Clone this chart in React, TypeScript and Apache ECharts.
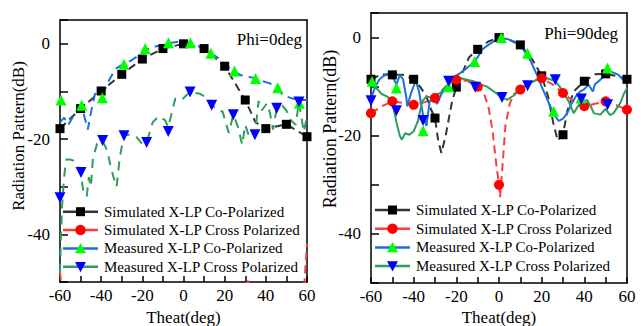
import React, { useEffect, useRef } from "react";
import * as echarts from "echarts";

type P = [number, number];

const FONT = "'Liberation Serif', 'Times New Roman', serif";

const seriesNames = [
  "Simulated X-LP Co-Polarized",
  "Simulated X-LP Cross Polarized",
  "Measured X-LP Co-Polarized",
  "Measured X-LP Cross Polarized",
];
const panelTitles = ["Phi=0deg", "Phi=90deg"];
const xAxisTitle = "Theat(deg)";
const yAxisTitle = "Radiation Pattern(dB)";
const xTickLabels = [-60, -40, -20, 0, 20, 40, 60];
const yTickLabels = [0, -20, -40];

// ---------- Phi = 0 deg ----------
const phi0SimCoMarkers: P[] = [
  [-60, -17.8], [-50, -13.6], [-40, -9.9], [-30, -6.4], [-20, -3.2], [-10, -1.0], [0, 0],
  [10, -1.0], [20, -4.7], [30, -11.8], [40, -17.8], [50, -16.9], [60, -19.5],
];
const phi0SimCoLine: P[] = [
  [-60, -17.8], [-50, -13.6], [-40, -9.9], [-30, -6.4], [-20, -3.2], [-10, -1.0], [0, 0],
  [10, -1.0], [20, -4.7], [30, -11.8], [35, -16.5], [40, -17.8], [50, -16.9], [60, -19.5],
];
const phi0SimCrossMarkers: P[] = [
  [-60, -56], [-50, -58], [-40, -60], [-30, -62], [-20, -64], [-10, -66], [0, -70],
  [10, -66], [20, -62], [30, -52], [40, -60], [50, -58], [60, -55],
];
const phi0SimCrossLine: P[] = [
  [-60, -48], [-58, -56], [-50, -58], [-40, -60], [-30, -62], [-20, -64], [-10, -66], [0, -70],
  [10, -66], [20, -62], [28, -55], [31, -49.3], [34, -55], [40, -60], [50, -58], [58, -55], [60, -42],
];
const phi0MeasCoMarkers: P[] = [
  [-59.5, -11.8], [-49.5, -12.9], [-39.4, -11.3], [-28.9, -4.3], [-18.6, -1.0], [-7.3, 0.2],
  [3.3, 0.2], [13.3, -2.0], [24.8, -5.7], [35, -7.3], [45.8, -9.2], [56.3, -12.5],
];
const phi0MeasCoLine: P[] = [
  [-60, -16.5], [-58, -15.5], [-56, -17], [-54, -15.5], [-52, -14], [-49.5, -13.2], [-48, -15.5],
  [-46.5, -18], [-45, -14.5], [-43, -10.5], [-39.4, -10.8], [-36, -7.5], [-33, -5.2], [-30, -4.5],
  [-25, -3.4], [-21, -2.2], [-18, -1.2], [-14, -0.6], [-10, -0.2], [-5, 0.3], [0, 0.6], [3, 0.4],
  [7, -0.4], [10, -1.2], [13.3, -2.0], [17, -3.0], [21, -4.6], [24.8, -5.9], [28, -6.6], [31, -6.8],
  [35, -7.3], [38, -7.8], [42, -8.3], [45.8, -9.4], [48, -10.6], [51, -11.2], [53, -11.5],
  [56.3, -11.8], [60, -11.8],
];
const phi0MeasCrossMarkers: P[] = [
  [-60, -32.3], [-49.8, -27], [-39.3, -20.3], [-28.9, -19.3], [-17.9, -20.7], [-7.4, -18.4],
  [3.2, -10.1], [13.7, -12.9], [24.2, -14.9], [34.7, -19.1], [45.3, -13.5], [56.1, -12.2],
];
const phi0MeasCrossLine: P[] = [
  [-60, -48], [-59.5, -40], [-59, -34], [-58, -28], [-57, -24.3], [-55, -24.3], [-53, -24.6],
  [-50, -27], [-48.5, -31.5], [-47, -32], [-46, -28], [-45, -30], [-44, -24], [-42, -21],
  [-39.3, -20.3], [-37, -22.5], [-35.5, -25.5], [-34, -28], [-32.5, -30], [-31, -24],
  [-29, -19.3], [-26, -19], [-23, -19.5], [-20, -21], [-17.9, -20.7], [-15, -16.5], [-12, -15.2],
  [-9, -16], [-7.4, -17.5], [-4, -11.5], [-1, -11.8], [3.2, -10.1], [8, -10.5], [11, -11.2],
  [13.7, -12.9], [17, -14], [19, -14.2], [20.5, -16.5], [22, -18.7], [24.2, -14.9], [26.5, -17.5],
  [28.5, -21.2], [30, -17], [31.5, -19], [33, -18], [34.7, -19.1], [36.5, -12], [38, -14],
  [40.5, -12.5], [42, -14.5], [43.5, -18], [45.3, -13.5], [48, -13], [50, -14], [52, -16],
  [54.5, -17], [56.1, -12.2], [57.5, -16], [58.5, -18.5], [60, -15],
];

// ---------- Phi = 90 deg ----------
const phi90SimCoMarkers: P[] = [
  [-60, -8.5], [-50, -7.6], [-40, -8.5], [-30, -16.4], [-20, -10.1], [-10, -2.4], [0, 0],
  [10, -1.5], [20, -7.8], [30, -19.8], [40, -8.9], [50, -7.4], [60, -8.5],
];
const phi90SimCoLine: P[] = [
  [-60, -8.5], [-55, -7.5], [-50, -7.6], [-45, -7.6], [-40, -8.5], [-37, -10], [-34, -12],
  [-32, -14.5], [-30, -16.4], [-28.5, -21], [-27, -23.5], [-25, -20], [-22, -13], [-20, -10.1],
  [-17, -7], [-14, -4], [-10, -2.4], [-5, -0.8], [0, 0], [5, -0.5], [10, -1.5], [15, -4],
  [20, -7.8], [23, -12], [25.5, -17.5], [27.5, -21], [30, -19.8], [32, -15], [35, -11],
  [40, -8.9], [45, -7.5], [50, -7.4], [55, -7.8], [60, -8.5],
];
const phi90SimCrossMarkers: P[] = [
  [-60, -15.4], [-50, -13], [-40, -13.7], [-30, -12.3], [-20, -8.6], [-10, -10], [0, -30],
  [10, -10.6], [20, -8.3], [30, -11.3], [40, -14], [50, -13], [60, -14.7],
];
const phi90SimCrossLine: P[] = [
  [-60, -15.4], [-55, -14], [-50, -13], [-45, -13.3], [-40, -13.7], [-35, -13.2], [-30, -12.3],
  [-25, -10], [-20, -8.6], [-15, -8.8], [-10, -10], [-7, -11.5], [-5, -14], [-3, -19],
  [-1.5, -25], [0, -30], [0.5, -32.5], [1.5, -27], [3, -18], [5, -13.5], [7, -11.5],
  [10, -10.6], [15, -9], [20, -8.3], [25, -9.5], [30, -11.3], [35, -13], [40, -14],
  [45, -13.5], [50, -13], [55, -13.8], [60, -14.7],
];
const phi90MeasCoMarkers: P[] = [
  [-59.5, -8.9], [-48.1, -10.3], [-35.6, -19.0], [-23.6, -10], [-11.4, -4.9], [1.1, 0],
  [13.4, -3.2], [25.6, -15], [38.4, -12.3], [50.9, -6.2],
];
const phi90MeasCoLine: P[] = [
  [-60, -12.5], [-58, -10], [-56, -8.5], [-54, -7.8], [-52.5, -7.4], [-50, -8], [-48, -9.5],
  [-46.5, -7.6], [-45, -8.5], [-43.5, -12], [-43, -14], [-41, -11], [-39, -8.8], [-37.5, -11],
  [-35.5, -16], [-34, -18], [-32.5, -13], [-31, -12.5], [-29, -13.5], [-27, -11.5], [-24.4, -10],
  [-21, -8], [-18, -7.2], [-15, -6.2], [-13, -5.5], [-10, -4], [-8, -2.5], [-5, -1.5],
  [-2.5, -0.8], [1, -0.2], [4, -0.3], [7, -0.8], [10, -1.6], [12, -2.8], [14, -4], [16, -5.9],
  [18, -7.8], [20, -10], [22, -12], [24, -14], [26, -15.8], [28, -17], [30, -16.5], [32, -15.4],
  [34, -13.5], [36, -12], [38, -11], [40, -10.5], [42, -9.6], [44, -11], [45, -9.5],
  [47.5, -8.6], [50, -7.5], [52, -6.9], [54, -7.2], [56, -7.6], [58, -8.5], [60, -9.6],
];
const phi90MeasCrossMarkers: P[] = [
  [-60, -12.9], [-48.1, -14.9], [-35.6, -16.9], [-23.6, -8.9], [-11.1, -10.1], [1.4, -12.2],
  [13.4, -9.8], [26.4, -8.6], [38.6, -12.5], [50.9, -13.7],
];
const phi90MeasCrossLine: P[] = [
  [-60, -9.5], [-57, -10.5], [-55, -11.5], [-52.5, -12], [-50, -13], [-48, -17.4], [-46.5, -20],
  [-45.5, -20.8], [-44, -19.5], [-42, -19.8], [-40, -19.1], [-38, -17], [-36, -13], [-34, -12],
  [-32, -12.2], [-30, -11.8], [-27.5, -11.3], [-25, -10], [-21, -8.6], [-18, -8.3], [-15, -8.6],
  [-12, -8.9], [-9, -9.5], [-5.6, -10], [-3, -10.8], [0.6, -12], [3.8, -12.7], [7, -11.8],
  [10, -10.5], [13, -9.6], [17.8, -8.6], [22.5, -8.3], [26, -8.8], [28.5, -10], [30.3, -11.3],
  [32.6, -13], [35, -15.4], [37, -14], [39, -13], [41.3, -12.7], [43, -14], [44.4, -15.4],
  [47.5, -15.7], [50, -14.5], [52, -15.8], [53.7, -15.4], [56.9, -13.3], [58.5, -11.5], [60, -10.3],
];

type Shape = "square" | "circle" | "up" | "down";

type Curve = {
  line: P[];
  markers: P[];
  lineColor: string;
  markerColor: string;
  shape: Shape;
  size: number;
  dash: number[] | "solid";
};

type Panel = {
  title: string;
  curves: Curve[];
  grid: { left: number; top: number; width: number; height: number };
  legend: { left: number; top: number; step: number };
  titlePos: [number, number];
  yNamePos: [number, number];
  yNameSize: number;
  xNameY: number;
};

const BLACK_LINE = "#333333";
const RED_LINE = "#ff3b3b";
const BLUE_LINE = "#1f6fdc";
const GREEN_LINE = "#2e9e5b";
const SYMBOLS: Record<Shape, string> = {
  square: "rect",
  circle: "circle",
  up: "triangle",
  down: "path://M0,0L10,0L5,9Z",
};

function curvesFor(
  simCo: [P[], P[]],
  simCross: [P[], P[]],
  measCo: [P[], P[]],
  measCross: [P[], P[]],
  measDash: number[] | "solid"
): Curve[] {
  return [
    { line: simCo[0], markers: simCo[1], lineColor: BLACK_LINE, markerColor: "#000000", shape: "square", size: 9, dash: [8, 5] },
    { line: simCross[0], markers: simCross[1], lineColor: RED_LINE, markerColor: "#ff0000", shape: "circle", size: 10, dash: [8, 5] },
    { line: measCo[0], markers: measCo[1], lineColor: BLUE_LINE, markerColor: "#00ff00", shape: "up", size: 11, dash: measDash },
    { line: measCross[0], markers: measCross[1], lineColor: GREEN_LINE, markerColor: "#0000ff", shape: "down", size: 11, dash: measDash === "solid" ? "solid" : [9, 7] },
  ];
}

const panels: Panel[] = [
  {
    title: panelTitles[0],
    curves: curvesFor(
      [phi0SimCoLine, phi0SimCoMarkers],
      [phi0SimCrossLine, phi0SimCrossMarkers],
      [phi0MeasCoLine, phi0MeasCoMarkers],
      [phi0MeasCrossLine, phi0MeasCrossMarkers],
      [9, 6]
    ),
    grid: { left: 60, top: 20, width: 247, height: 262 },
    legend: { left: 63, top: 211.7, step: 18.35 },
    titlePos: [302, 39],
    yNamePos: [18.5, 136],
    yNameSize: 17,
    xNameY: 317,
  },
  {
    title: panelTitles[1],
    curves: curvesFor(
      [phi90SimCoLine, phi90SimCoMarkers],
      [phi90SimCrossLine, phi90SimCrossMarkers],
      [phi90MeasCoLine, phi90MeasCoMarkers],
      [phi90MeasCrossLine, phi90MeasCrossMarkers],
      "solid"
    ),
    grid: { left: 51, top: 13, width: 256, height: 270 },
    legend: { left: 55, top: 210, step: 18.7 },
    titlePos: [298, 33],
    yNamePos: [10, 129],
    yNameSize: 18,
    xNameY: 317,
  },
];

function legendMarker(shape: Shape, cx: number, cy: number, color: string): any {
  const style = { fill: color };
  if (shape === "square") {
    return { type: "rect", shape: { x: cx - 4.5, y: cy - 4.5, width: 9, height: 9 }, style };
  }
  if (shape === "circle") {
    return { type: "circle", shape: { cx, cy, r: 5.2 }, style };
  }
  if (shape === "up") {
    return { type: "polygon", shape: { points: [[cx - 5.5, cy + 4.8], [cx + 5.5, cy + 4.8], [cx, cy - 5.5]] }, style };
  }
  return { type: "polygon", shape: { points: [[cx - 5.5, cy - 4.8], [cx + 5.5, cy - 4.8], [cx, cy + 5.5]] }, style };
}

function buildLegend(p: Panel): any[] {
  const items: any[] = [];
  p.curves.forEach((c, i) => {
    const y = p.legend.top + i * p.legend.step;
    const x0 = p.legend.left;
    const x1 = x0 + 35;
    items.push({
      type: "line",
      z: 20,
      shape: { x1: x0, y1: y, x2: x1, y2: y },
      style: { stroke: c.lineColor, lineWidth: 2.5 },
    });
    items.push({ ...legendMarker(c.shape, (x0 + x1) / 2, y, c.markerColor), z: 21 });
    items.push({
      type: "text",
      z: 21,
      x: x1 + 6,
      y,
      style: {
        text: seriesNames[i],
        fill: "#000",
        font: `15px ${FONT}`,
        align: "left",
        verticalAlign: "middle",
      },
    });
  });
  return items;
}

function buildOption(p: Panel): any {
  const series: any[] = [];
  p.curves.forEach((c, i) => {
    series.push({
      type: "line",
      name: seriesNames[i],
      data: c.line,
      showSymbol: false,
      symbol: "none",
      lineStyle: { color: c.lineColor, width: 2, type: c.dash },
      clip: true,
      z: 2,
      silent: true,
    });
  });
  p.curves.forEach((c, i) => {
    series.push({
      type: "scatter",
      name: seriesNames[i] + " markers",
      data: c.markers,
      symbol: SYMBOLS[c.shape],
      symbolSize: c.size,
      itemStyle: { color: c.markerColor, opacity: 1 },
      clip: true,
      z: 3,
      silent: true,
    });
  });

  const axisLineStyle = { color: "#000", width: 1.5 };
  const frameAxis = {
    type: "value",
    axisLine: { show: true, onZero: false, lineStyle: axisLineStyle },
    axisTick: { show: false },
    axisLabel: { show: false },
    splitLine: { show: false },
  };
  return {
    animation: false,
    backgroundColor: "#ffffff",
    grid: { ...p.grid, containLabel: false, outerBoundsMode: "none" },
    xAxis: [
      {
        type: "value",
        position: "bottom",
        min: -60,
        max: 60,
        interval: 10,
        axisLine: { show: true, onZero: false, lineStyle: axisLineStyle },
        axisTick: { show: true, inside: true, length: 6, lineStyle: axisLineStyle },
        axisLabel: {
          margin: 5,
          fontFamily: FONT,
          fontSize: 17,
          lineHeight: 17,
          color: "#000",
          formatter: (v: number) => (xTickLabels.includes(v) ? String(v) : ""),
        },
        splitLine: { show: false },
      },
      { ...frameAxis, position: "top", min: -60, max: 60 },
    ],
    yAxis: [
      {
        type: "value",
        position: "left",
        min: -50,
        max: 5,
        interval: 10,
        axisLine: { show: true, onZero: false, lineStyle: axisLineStyle },
        axisTick: { show: true, inside: true, length: 8, lineStyle: axisLineStyle },
        axisLabel: {
          margin: 10,
          fontFamily: FONT,
          fontSize: 17,
          color: "#000",
          formatter: (v: number) => (yTickLabels.includes(v) ? String(v) : ""),
        },
        splitLine: { show: false },
      },
      { ...frameAxis, position: "right", min: -50, max: 5 },
    ],
    graphic: [
      {
        type: "text",
        x: p.titlePos[0],
        y: p.titlePos[1],
        z: 10,
        style: {
          text: p.title,
          fill: "#000",
          font: `17px ${FONT}`,
          align: "right",
          verticalAlign: "middle",
        },
      },
      {
        type: "text",
        x: p.yNamePos[0],
        y: p.yNamePos[1],
        rotation: Math.PI / 2,
        z: 10,
        style: {
          text: yAxisTitle,
          fill: "#000",
          font: `${p.yNameSize}px ${FONT}`,
          align: "center",
          verticalAlign: "middle",
        },
      },
      {
        type: "text",
        x: p.grid.left + p.grid.width / 2,
        y: p.xNameY,
        z: 10,
        style: {
          text: xAxisTitle,
          fill: "#000",
          font: `17px ${FONT}`,
          align: "center",
          verticalAlign: "middle",
        },
      },
      ...buildLegend(p),
    ],
    series,
  };
}

function ChartPanel({ panel, left, width }: { panel: Panel; left: number; width: number }) {
  const ref = useRef<HTMLDivElement>(null);
  useEffect(() => {
    if (!ref.current) return;
    const chart = echarts.init(ref.current, undefined, { renderer: "svg" });
    chart.setOption(buildOption(panel));
    return () => chart.dispose();
  }, [panel]);
  return (
    <div
      ref={ref}
      style={{ position: "absolute", left, top: 0, width, height: 326 }}
    />
  );
}

export default function App() {
  return (
    <div style={{ position: "absolute", left: 0, top: 0, width: 643, height: 326, background: "#fff", overflow: "hidden" }}>
      <ChartPanel panel={panels[0]} left={0} width={320} />
      <ChartPanel panel={panels[1]} left={320} width={323} />
    </div>
  );
}
